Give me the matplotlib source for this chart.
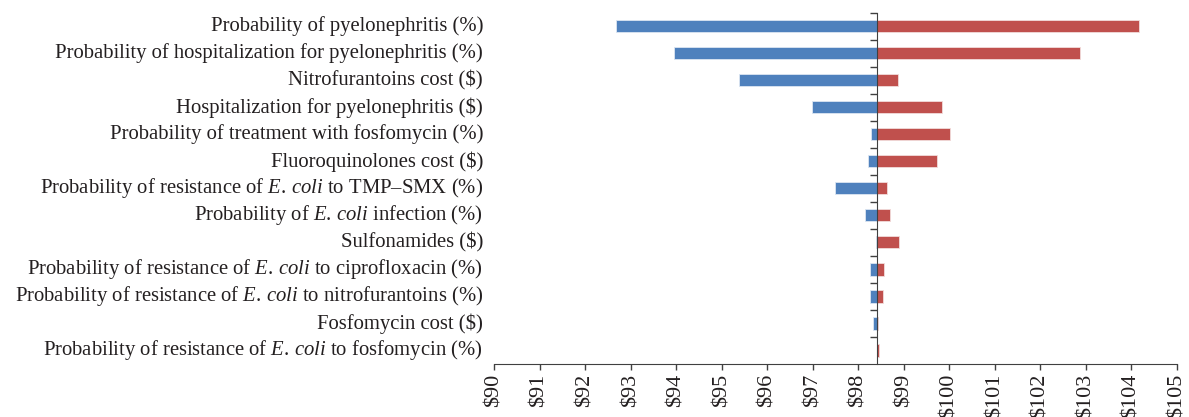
import matplotlib
matplotlib.use('Agg')
import matplotlib.pyplot as plt
from matplotlib.ticker import FuncFormatter, MultipleLocator, FixedLocator
import matplotlib.transforms as mtrans

plt.rcParams['font.family'] = 'Liberation Serif'
plt.rcParams['mathtext.fontset'] = 'custom'
plt.rcParams['mathtext.rm'] = 'Liberation Serif'
plt.rcParams['mathtext.it'] = 'Liberation Serif:italic'

EC = r'$\mathit{E.\,coli}$'

# parameters, top to bottom
labels = [
    'Probability of pyelonephritis (%)',
    'Probability of hospitalization for pyelonephritis (%)',
    'Nitrofurantoins cost (\\$)',
    'Hospitalization for pyelonephritis (\\$)',
    'Probability of treatment with fosfomycin (%)',
    'Fluoroquinolones cost (\\$)',
    'Probability of resistance of ' + EC + ' to TMP–SMX (%)',
    'Probability of ' + EC + ' infection (%)',
    'Sulfonamides (\\$)',
    'Probability of resistance of ' + EC + ' to ciprofloxacin (%)',
    'Probability of resistance of ' + EC + ' to nitrofurantoins (%)',
    'Fosfomycin cost (\\$)',
    'Probability of resistance of ' + EC + ' to fosfomycin (%)',
]
base = 98.41
low = [92.68, 93.96, 95.38, 96.99, 98.28, 98.22, 97.49, 98.14, 98.38, 98.25, 98.25, 98.32, 98.41]
high = [104.17, 102.87, 98.88, 99.83, 100.02, 99.74, 98.63, 98.70, 98.90, 98.57, 98.55, 98.43, 98.45]

blue = '#4F81BD'
red = '#C0504D'

fig = plt.figure(figsize=(11.89, 4.17), dpi=100)
ax = fig.add_axes([0.4155, 0.1271, 0.5744, 0.8424])

n = len(labels)
ypos = list(range(n))
ax.barh(ypos, [b - base for b in low], left=base, height=0.45,
        color=blue, edgecolor='#DCE6F2', linewidth=0.6, zorder=2)
ax.barh(ypos, [h - base for h in high], left=base, height=0.45,
        color=red, edgecolor='#F2DCDB', linewidth=0.6, zorder=2)

ax.set_xlim(90, 105)
ax.set_ylim(n - 0.5, -0.5)

ax.xaxis.set_major_locator(MultipleLocator(1))
ax.xaxis.set_major_formatter(FuncFormatter(lambda v, p: '$%d' % v))
ax.tick_params(axis='x', direction='out', length=4, width=1, color='#404040',
               labelsize=16, labelrotation=90, pad=3, labelcolor='#231F20')
for t in ax.get_xticklabels():
    t.set_verticalalignment('top')

ax.spines['top'].set_visible(False)
ax.spines['right'].set_visible(False)
ax.spines['bottom'].set_color('#404040')
ax.spines['left'].set_position(('data', base))
ax.spines['left'].set_color('#404040')
ax.spines['left'].set_zorder(3)

ax.yaxis.set_major_locator(FixedLocator([i - 0.5 for i in range(n)]))
ax.tick_params(axis='y', direction='out', length=5, width=1, color='#404040',
               labelleft=False)

trans = mtrans.blended_transform_factory(ax.transAxes, ax.transData)
for i, lab in enumerate(labels):
    ax.text(-0.016, i, lab, transform=trans, ha='right', va='center',
            fontsize=14.9, color='#231F20')

fig.savefig('out.png', dpi=100)
